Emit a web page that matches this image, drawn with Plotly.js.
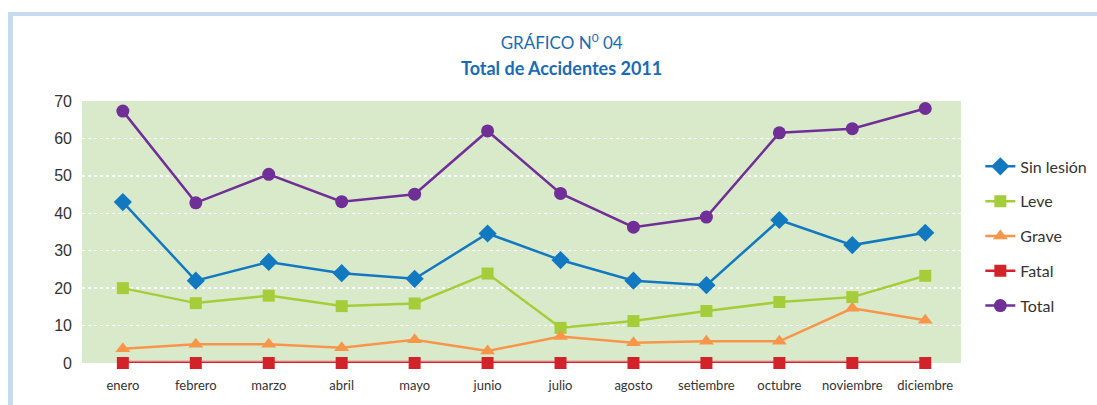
<!DOCTYPE html>
<html>
<head>
<meta charset="utf-8">
<script src="https://cdn.plot.ly/plotly-3.0.1.min.js"></script>
<style>
  html, body { margin: 0; padding: 0; background: #ffffff; }
  #wrap { position: relative; width: 1097px; height: 405px; overflow: hidden; }
  #frame { position: absolute; left: 8px; top: 12px; width: 1200px; height: 500px;
           border-top: 4px solid #c6dbf0; border-left: 5px solid #c6dbf0; box-sizing: border-box; }
  #chart { position: absolute; left: 0; top: 0; width: 1097px; height: 405px; }
</style>
</head>
<body>
<div id="wrap">
  <div id="frame"></div>
  <div id="chart"></div>
</div>
<script>
const months = ['enero','febrero','marzo','abril','mayo','junio','julio','agosto','setiembre','octubre','noviembre','diciembre'];
const sinLesion = [43, 22, 27, 24, 22.5, 34.6, 27.5, 22, 20.8, 38.2, 31.5, 34.8];
const leve      = [20, 16, 18, 15.2, 15.9, 23.9, 9.4, 11.2, 13.9, 16.3, 17.6, 23.3];
const grave     = [3.8, 5, 5, 4.1, 6.2, 3.2, 7.1, 5.4, 5.8, 5.8, 14.6, 11.4];
const fatal     = [0, 0, 0, 0, 0, 0, 0, 0, 0, 0, 0, 0];
const total     = [67.3, 42.8, 50.4, 43.1, 45.1, 62, 45.3, 36.3, 39, 61.5, 62.6, 68];
const yTicks    = [0, 10, 20, 30, 40, 50, 60, 70];

const base = { x: months, type: 'scatter', mode: 'lines+markers', cliponaxis: false, hoverinfo: 'x+y+name' };

const traces = [
  Object.assign({}, base, { y: sinLesion, name: 'Sin lesión', legendgroup: 'a',
    line: { color: '#1279c0', width: 2.5 }, marker: { symbol: 'diamond', size: 14, color: '#1279c0' } }),
  Object.assign({}, base, { y: leve, name: 'Leve', legendgroup: 'b',
    line: { color: '#a5cd39', width: 2.5 }, marker: { symbol: 'square', size: 12, color: '#a5cd39' } }),
  Object.assign({}, base, { y: grave, name: 'Grave', legendgroup: 'c',
    line: { color: '#f7964a', width: 2.5 }, marker: { symbol: 'triangle-up', size: 13, color: '#f7964a' } }),
  Object.assign({}, base, { y: fatal, name: 'Fatal halo', mode: 'lines', showlegend: false, hoverinfo: 'skip', legendgroup: 'd',
    line: { color: '#e79a9c', width: 5 } }),
  Object.assign({}, base, { y: fatal, name: 'Fatal', legendgroup: 'd',
    line: { color: '#d2232a', width: 2.5 }, marker: { symbol: 'square', size: 12, color: '#d2232a' } }),
  Object.assign({}, base, { y: total, name: 'Total', legendgroup: 'e',
    line: { color: '#702f96', width: 2.5 }, marker: { symbol: 'circle', size: 13, color: '#702f96' } })
];

const layout = {
  width: 1097, height: 405,
  margin: { l: 82, r: 136, t: 101, b: 42, autoexpand: false },
  paper_bgcolor: 'rgba(0,0,0,0)',
  plot_bgcolor: '#d9eacb',
  font: { family: 'Lato, "Open Sans", sans-serif', color: '#333333' },
  title: {
    text: 'GRÁFICO N<sup>0</sup> 04',
    font: { family: 'Lato, sans-serif', size: 17, color: '#1a6bb5' },
    xref: 'container', yref: 'container', x: 0.512, xanchor: 'center', y: 0.893, yanchor: 'middle'
  },
  annotations: [{
    text: '<b>Total de Accidentes 2011</b>', xref: 'paper', yref: 'paper',
    x: 0.545, y: 1.126, xanchor: 'center', yanchor: 'middle', showarrow: false,
    font: { family: 'Lato, sans-serif', size: 18, color: '#1a6bb5' }
  }],
  xaxis: {
    type: 'category', range: [-0.56, 11.49], showgrid: false, zeroline: false, showline: false,
    ticks: '', ticklabelstandoff: 13, automargin: false,
    tickfont: { family: 'Lato, sans-serif', size: 13, color: '#333333' }, fixedrange: true
  },
  yaxis: {
    range: [0, 70], tickvals: yTicks, showgrid: true, gridcolor: '#ffffff', gridwidth: 1.5,
    griddash: '3px,3px', zeroline: false, showline: false, ticks: '', ticklabelstandoff: 9, automargin: false,
    tickfont: { family: '"Liberation Sans", Arial, sans-serif', size: 16, color: '#333333' }, fixedrange: true
  },
  showlegend: true,
  legend: {
    x: 1.022, y: 0.815, xanchor: 'left', yanchor: 'top', traceorder: 'grouped', tracegroupgap: 11,
    font: { family: 'Lato, sans-serif', size: 16, color: '#333333' }, bgcolor: 'rgba(0,0,0,0)'
  }
};

Plotly.newPlot('chart', traces, layout, { displayModeBar: false, staticPlot: true });
</script>
</body>
</html>
